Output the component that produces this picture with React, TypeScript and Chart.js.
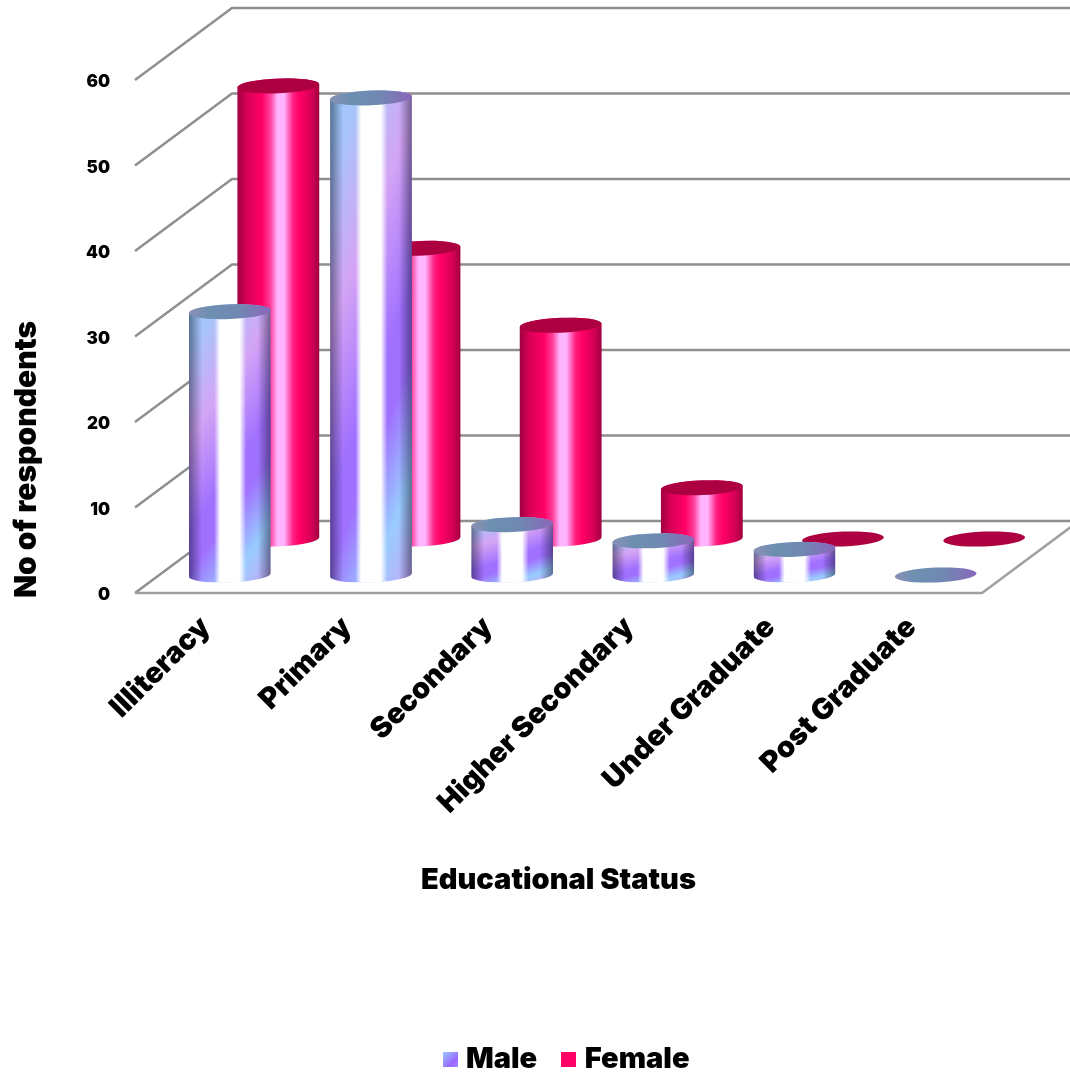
import React, { useEffect, useRef } from "react";
import { Chart, registerables } from "chart.js";

Chart.register(...registerables);

// Respondent counts by educational status
const categories = ["Illiteracy", "Primary", "Secondary", "Higher Secondary", "Under Graduate", "Post Graduate"];
const maleValues = [30.8, 55.8, 5.9, 4, 3, 0];
const femaleValues = [53, 34, 25, 6, 0, 0];
const seriesNames = ["Male", "Female"];
const yTitle = "No of respondents";
const xTitle = "Educational Status";

const FONT = "Inter";
const DEPTH_X = 97;
const DEPTH_Y = 72;
const ROW_DEPTH = [0.25, 0.75]; // how far back each series stands on the floor
const TILT = -0.04;
const RY = 7.4;
const GRID = "#8f8f8f";

type Ctx = CanvasRenderingContext2D;

// Sweeps the purple/blue sheen across the box, in box-relative coordinates.
function fillSheen(ctx: Ctx, x: number, y: number, w: number, h: number) {
  const a = 0.3;
  const b = 0.7;
  const n = a * a + b * b;
  ctx.save();
  ctx.translate(x, y);
  ctx.scale(w, h);
  const g = ctx.createLinearGradient(0, 0, a / n, b / n);
  g.addColorStop(0, "#99ccff");
  g.addColorStop(0.12, "#a8c4fa");
  g.addColorStop(0.34, "#d4a4f5");
  g.addColorStop(0.58, "#a070ff");
  g.addColorStop(0.68, "#a070ff");
  g.addColorStop(0.85, "#99ccff");
  g.addColorStop(1, "#c4a8f5");
  ctx.fillStyle = g;
  ctx.fillRect(0, 0, 1, 1);
  ctx.restore();
}

function cylinderPath(ctx: Ctx, cx: number, top: number, bottom: number, rx: number) {
  ctx.beginPath();
  ctx.ellipse(cx, bottom, rx, RY, TILT, Math.PI, 0, true);
  ctx.ellipse(cx, top, rx, RY, TILT, 0, Math.PI, true);
  ctx.closePath();
}

function drawMaleBody(ctx: Ctx, cx: number, top: number, bottom: number, rx: number) {
  const left = cx - rx;
  const w = rx * 2;
  ctx.save();
  cylinderPath(ctx, cx, top, bottom, rx);
  ctx.clip();
  fillSheen(ctx, left, top - RY, w, bottom - top + RY * 2);

  const shine = ctx.createLinearGradient(left, 0, left + w, 0);
  shine.addColorStop(0.31, "rgba(255,255,255,0)");
  shine.addColorStop(0.38, "rgba(255,255,255,1)");
  shine.addColorStop(0.62, "rgba(255,255,255,1)");
  shine.addColorStop(0.7, "rgba(255,255,255,0)");
  ctx.fillStyle = shine;
  ctx.fillRect(left, top - RY, w, bottom - top + RY * 2);

  // Darken toward the silhouette so the underlying hue still shows at the rim.
  const edge = ctx.createLinearGradient(left, 0, left + w, 0);
  edge.addColorStop(0, "#8c9096");
  edge.addColorStop(0.16, "#ffffff");
  edge.addColorStop(0.84, "#ffffff");
  edge.addColorStop(1, "#8c9096");
  ctx.globalCompositeOperation = "multiply";
  ctx.fillStyle = edge;
  ctx.fillRect(left, top - RY, w, bottom - top + RY * 2);
  ctx.restore();
}

function drawFemaleBody(ctx: Ctx, cx: number, top: number, bottom: number, rx: number) {
  const left = cx - rx;
  const g = ctx.createLinearGradient(left, 0, left + rx * 2, 0);
  g.addColorStop(0, "#a00040");
  g.addColorStop(0.12, "#d80056");
  g.addColorStop(0.3, "#ff0066");
  g.addColorStop(0.4, "#ff3d99");
  g.addColorStop(0.49, "#ffb4ff");
  g.addColorStop(0.57, "#ffb4ff");
  g.addColorStop(0.68, "#ff1f80");
  g.addColorStop(0.76, "#ff0066");
  g.addColorStop(0.9, "#d80056");
  g.addColorStop(1, "#a00040");
  cylinderPath(ctx, cx, top, bottom, rx);
  ctx.fillStyle = g;
  ctx.fill();
}

function drawCap(ctx: Ctx, cx: number, y: number, rx: number, series: number) {
  ctx.beginPath();
  ctx.ellipse(cx, y, rx, RY, TILT, 0, Math.PI * 2);
  if (series === 0) {
    const g = ctx.createLinearGradient(cx - rx, 0, cx + rx, 0);
    g.addColorStop(0, "#8a90b5");
    g.addColorStop(0.25, "#6c8fb0");
    g.addColorStop(0.6, "#7088b2");
    g.addColorStop(1, "#8a66bb");
    ctx.fillStyle = g;
  } else {
    ctx.fillStyle = "#ad0040";
  }
  ctx.fill();
}

// Back wall, side wall and floor outline, following the value axis ticks.
const wallPlugin = {
  id: "wall",
  beforeDatasetsDraw(chart: any) {
    const { ctx, chartArea, scales } = chart;
    ctx.save();
    ctx.strokeStyle = GRID;
    ctx.lineWidth = 2.5;
    for (const tick of scales.y.ticks) {
      const py = scales.y.getPixelForValue(tick.value);
      ctx.beginPath();
      ctx.moveTo(chartArea.left, py);
      ctx.lineTo(chartArea.left + DEPTH_X, py - DEPTH_Y);
      ctx.lineTo(chartArea.right + DEPTH_X, py - DEPTH_Y);
      ctx.stroke();
    }
    ctx.strokeStyle = "#a0a0a0";
    ctx.beginPath();
    ctx.moveTo(chartArea.left, chartArea.bottom);
    ctx.lineTo(chartArea.right, chartArea.bottom);
    ctx.lineTo(chartArea.right + DEPTH_X, chartArea.bottom - DEPTH_Y);
    ctx.stroke();
    ctx.restore();
  },
};

// Replaces each flat bar with a cylinder set back on the floor by its series row.
const cylinderPlugin = {
  id: "cylinders",
  beforeDatasetDraw(chart: any, args: any) {
    const { ctx } = chart;
    const series = args.index;
    const shiftX = DEPTH_X * ROW_DEPTH[series];
    const shiftY = DEPTH_Y * ROW_DEPTH[series];
    for (const el of args.meta.data) {
      const cx = el.x + shiftX;
      const top = el.y - shiftY;
      const bottom = el.base - shiftY;
      const rx = el.width / 2;
      if (bottom - top > 0.5) {
        if (series === 0) drawMaleBody(ctx, cx, top, bottom, rx);
        else drawFemaleBody(ctx, cx, top, bottom, rx);
      }
      drawCap(ctx, cx, top, rx, series);
    }
    return false;
  },
};

// Moves the legend below the plot's centre and sets the value-axis title down the wall.
const placementPlugin = {
  id: "placement",
  afterLayout(chart: any) {
    const legend = chart.legend;
    legend.left += 78;
    legend.right += 78;
    legend.top += 7;
    legend.bottom += 7;
    chart.scales.y.bottom += 5;
  },
};

function swatch(paint: (c: Ctx) => void) {
  const canvas = document.createElement("canvas");
  canvas.width = 15;
  canvas.height = 15;
  paint(canvas.getContext("2d") as Ctx);
  return canvas;
}

export default function App() {
  const ref = useRef<HTMLCanvasElement>(null);

  useEffect(() => {
    const maleSwatch = swatch((c) => {
      const g = c.createLinearGradient(0, 0, 15, 15);
      g.addColorStop(0, "#99ccff");
      g.addColorStop(0.7, "#9966ff");
      g.addColorStop(1, "#a98cff");
      c.fillStyle = g;
      c.fillRect(0, 0, 15, 15);
    });
    const femaleSwatch = swatch((c) => {
      c.fillStyle = "#ff0066";
      c.fillRect(0, 0, 15, 15);
    });

    const chart = new Chart(ref.current as HTMLCanvasElement, {
      type: "bar",
      data: {
        labels: categories,
        datasets: [
          { label: seriesNames[0], data: maleValues, backgroundColor: "#9966ff" },
          { label: seriesNames[1], data: femaleValues, backgroundColor: "#ff0066" },
        ],
      },
      plugins: [wallPlugin, cylinderPlugin, placementPlugin],
      options: {
        responsive: false,
        animation: false,
        layout: { padding: { top: 80, right: 88, left: 0, bottom: 0 } },
        datasets: { bar: { grouped: false, barPercentage: 0.58, categoryPercentage: 1 } },
        plugins: {
          tooltip: { enabled: false },
          legend: {
            position: "bottom",
            labels: {
              color: "#000",
              font: { family: FONT, size: 29, weight: "900" },
              padding: 30,
              usePointStyle: true,
              pointStyleWidth: 3,
              generateLabels: () => [
                { text: seriesNames[0], pointStyle: maleSwatch, datasetIndex: 0, lineWidth: 0 },
                { text: seriesNames[1], pointStyle: femaleSwatch, datasetIndex: 1, lineWidth: 0 },
              ],
            },
          },
        },
        scales: {
          x: {
            afterFit(scale: any) {
              scale.height = 415;
            },
            grid: { display: false, drawTicks: false },
            border: { display: false },
            ticks: {
              autoSkip: false,
              minRotation: 45,
              maxRotation: 45,
              padding: 17,
              color: "#000",
              font: { family: FONT, size: 29, weight: "900" },
            },
            title: {
              display: true,
              text: xTitle,
              color: "#000",
              font: { family: FONT, size: 29, weight: "900" },
              padding: { top: 0, bottom: 110 },
            },
          },
          y: {
            min: 0,
            max: 60,
            afterFit(scale: any) {
              scale.width = 135;
            },
            grid: { display: false, drawTicks: false },
            border: { display: false },
            ticks: {
              stepSize: 10,
              padding: 25,
              labelOffset: 2,
              color: "#000",
              font: { family: FONT, size: 17, weight: "900" },
            },
            title: {
              display: true,
              text: yTitle,
              align: "start",
              color: "#000",
              font: { family: FONT, size: 30, weight: "900" },
              padding: { top: 9, bottom: 0 },
            },
          },
        },
      },
    } as any);
    return () => chart.destroy();
  }, []);

  return (
    <div style={{ position: "fixed", left: 0, top: 0, width: 1070, height: 1077, background: "#fff" }}>
      <canvas ref={ref} width={1070} height={1077} style={{ display: "block" }} />
    </div>
  );
}
